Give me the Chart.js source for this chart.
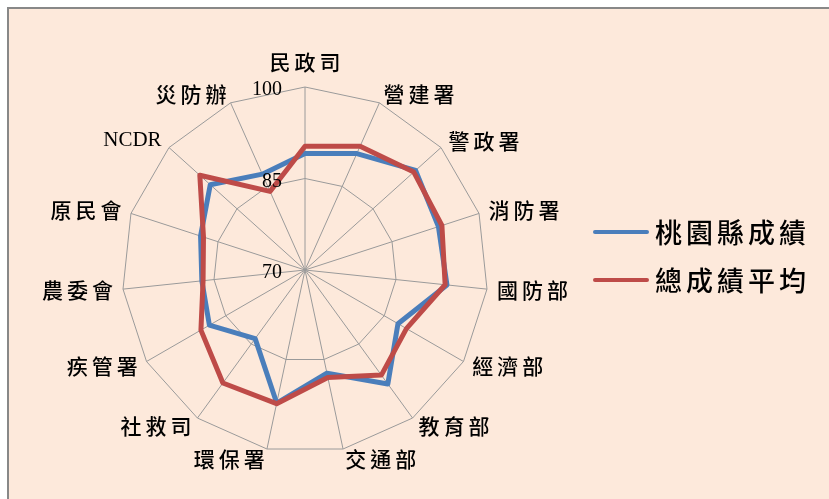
<!DOCTYPE html>
<html>
<head>
<meta charset="utf-8">
<script src="https://cdn.jsdelivr.net/npm/chart.js@4.4.0/dist/chart.umd.min.js"></script>
<style>
  html, body { margin: 0; padding: 0; background: #fff; overflow: hidden; }
  #frame { position: absolute; left: 7px; top: 7px; width: 840px; height: 510px; background: #fde9db; border: 2px solid #888; }
  #wrap { position: absolute; left: 0; top: 0; width: 829px; height: 499px; }
  .item { position: absolute; left: 593px; height: 30px; }
  .item .swatch { position: absolute; left: 0; top: 13px; width: 56px; height: 4px; border-radius: 2px; }
  .item .txt { position: absolute; left: 62px; top: 0; font: 500 27px "Noto Sans CJK TC"; line-height: 30px; letter-spacing: 4px; white-space: nowrap; color: #000; }
</style>
</head>
<body>
<div id="frame"></div>
<div id="wrap"><canvas id="radar"></canvas></div>
<div class="item" style="top:217px"><div class="swatch" style="background:#4a7ebb"></div><div class="txt">桃園縣成績</div></div>
<div class="item" style="top:265px"><div class="swatch" style="background:#be4b48"></div><div class="txt">總成績平均</div></div>
<script>
const labels = ['民政司', '營建署', '警政署', '消防署', '國防部', '經濟部', '教育部', '交通部', '環保署', '社救司', '疾管署', '農委會', '原民會', 'NCDR', '災防辦'];
const taoyuan = [89.1, 90.9, 94.4, 93.0, 93.4, 87.6, 93.1, 87.3, 92.3, 83.9, 88.1, 87.0, 88.0, 90.9, 87.2];
const average = [90.3, 92.2, 94.0, 93.6, 93.1, 89.2, 91.3, 88.0, 92.4, 92.9, 89.7, 86.8, 87.5, 93.2, 84.1];
const tickValues = [70, 85, 100];

// labels around the web and the axis numbers, drawn from the scale positions
const textPlugin = {
  id: 'radarText',
  afterDraw(chart) {
    const r = chart.scales.r;
    const ctx = chart.ctx;
    ctx.save();
    ctx.fillStyle = '#000';
    labels.forEach((text, i) => {
      const angle = 360 / labels.length * i;
      const cjk = /[^\x00-\x7f]/.test(text);
      const sp = cjk ? 4 : 0;
      ctx.font = cjk ? '500 21px "Noto Sans CJK TC"' : '21px "Liberation Serif"';
      ctx.letterSpacing = sp + 'px';
      let p, x;
      if (i === 0) {
        p = r.getPointPosition(i, r.drawingArea + 14);
        ctx.textAlign = 'center';
        ctx.textBaseline = 'bottom';
        x = p.x + sp / 2;
      } else {
        p = r.getPointPosition(i, r.drawingArea + 10);
        ctx.textBaseline = 'middle';
        if (angle < 180) { ctx.textAlign = 'left'; x = p.x; }
        else { ctx.textAlign = 'right'; x = p.x + sp; }
      }
      ctx.fillText(text, x, p.y);
    });
    ctx.letterSpacing = '0px';
    ctx.font = '20px "Liberation Serif"';
    ctx.textAlign = 'right';
    ctx.textBaseline = 'middle';
    tickValues.forEach(v => {
      const p = r.getPointPositionForValue(0, v);
      ctx.fillText(String(v), p.x - 23, p.y + 3);
    });
    ctx.restore();
  }
};

new Chart(document.getElementById('radar'), {
  type: 'radar',
  data: {
    labels,
    datasets: [
      { label: '桃園縣成績', data: taoyuan, borderColor: '#4a7ebb', borderWidth: 5, fill: false, pointRadius: 0, borderJoinStyle: 'round', order: 1 },
      { label: '總成績平均', data: average, borderColor: '#be4b48', borderWidth: 5, fill: false, pointRadius: 0, borderJoinStyle: 'round', order: 0 }
    ]
  },
  options: {
    responsive: true,
    maintainAspectRatio: false,
    animation: false,
    layout: { padding: { left: 122, right: 341, top: 87, bottom: 46 } },
    plugins: { legend: { display: false }, tooltip: { enabled: false } },
    scales: {
      r: {
        min: 70,
        max: 100,
        ticks: { display: false, stepSize: 15 },
        pointLabels: { display: false },
        grid: { color: '#9a9a9a', lineWidth: 1 },
        angleLines: { color: '#9a9a9a', lineWidth: 1 }
      }
    }
  },
  plugins: [textPlugin]
});
</script>
</body>
</html>
